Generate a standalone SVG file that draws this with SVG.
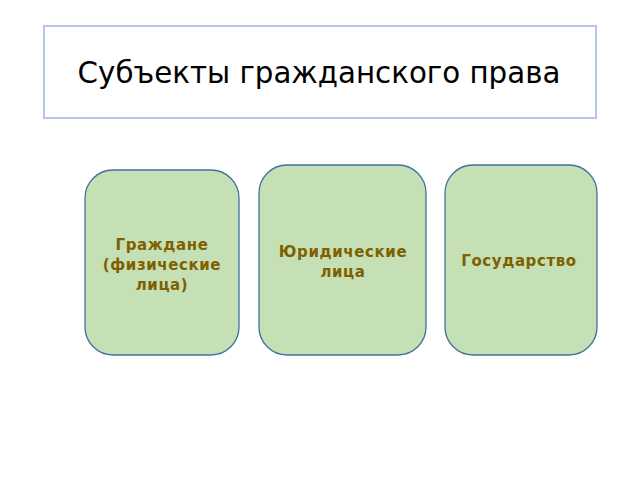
<svg xmlns="http://www.w3.org/2000/svg" width="640" height="480" viewBox="0 0 640 480">
<style>
.box{fill:#C5E0B4;stroke:#41719C;stroke-width:1.3}
.lbl{font-family:"DejaVu Sans",sans-serif;font-weight:bold;font-size:15px;fill:#7F6000;text-anchor:middle;letter-spacing:0.6px}
.title{font-family:"DejaVu Sans",sans-serif;font-size:29.3px;fill:#000;text-anchor:middle}
</style>
<rect width="640" height="480" fill="#fff"/>
<g id="title">
<rect x="44" y="26" width="552" height="92" fill="#fff" stroke="#B4C7E7" stroke-width="2"/>
<text class="title" x="319" y="83">Субъекты гражданского права</text>
</g>
<g id="citizens">
<rect class="box" x="85" y="170" width="154" height="185" rx="28"/>
<text class="lbl" x="162" y="250">Граждане</text>
<text class="lbl" x="162" y="270">(физические</text>
<text class="lbl" x="162" y="290">лица)</text>
</g>
<g id="legal">
<rect class="box" x="259" y="165" width="167" height="190" rx="28"/>
<text class="lbl" x="343" y="257">Юридические</text>
<text class="lbl" x="343" y="277">лица</text>
</g>
<g id="state">
<rect class="box" x="445" y="165" width="152" height="190" rx="28"/>
<text class="lbl" x="519" y="266">Государство</text>
</g>
<g id="connectors"/>
</svg>
